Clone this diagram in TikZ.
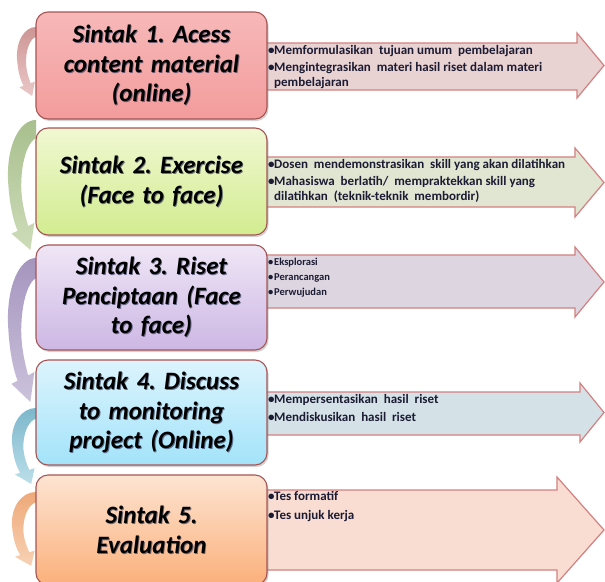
\documentclass[tikz,border=0pt]{standalone}
\usepackage{fontspec}
\setmainfont{Carlito}
\usetikzlibrary{shadows}
\frenchspacing

% colours of the five steps
\definecolor{edge}{HTML}{A65555}
\definecolor{arrowedge}{HTML}{D58080}
\definecolor{txt}{HTML}{1B1B33}
\definecolor{glow}{HTML}{1C2448}
\definecolor{arrA}{HTML}{E9D2D2}
\definecolor{arrB}{HTML}{E1E6D3}
\definecolor{arrC}{HTML}{DDD5E0}
\definecolor{arrD}{HTML}{D4E2E8}
\definecolor{arrE}{HTML}{F9DDD2}
\definecolor{curlAt}{HTML}{C98A8A}\definecolor{curlAb}{HTML}{E9C2C2}
\definecolor{curlBt}{HTML}{9FB982}\definecolor{curlBb}{HTML}{C9D9B2}
\definecolor{curlCt}{HTML}{9C8AB8}\definecolor{curlCb}{HTML}{C6BCD8}
\definecolor{curlDt}{HTML}{6FB0C6}\definecolor{curlDb}{HTML}{B5DCE8}
\definecolor{curlEt}{HTML}{EDA06A}\definecolor{curlEb}{HTML}{F7CDAE}
\definecolor{boxAt}{HTML}{F7B8B8}\definecolor{boxAb}{HTML}{F39C9C}
\definecolor{boxBt}{HTML}{F0F8D2}\definecolor{boxBb}{HTML}{D3EC90}
\definecolor{boxCt}{HTML}{EFE6F6}\definecolor{boxCb}{HTML}{CDB7E4}
\definecolor{boxDt}{HTML}{DCF4FD}\definecolor{boxDb}{HTML}{A3E3FA}
\definecolor{boxEt}{HTML}{FDE4D2}\definecolor{boxEb}{HTML}{FBB07A}

\tikzset{
  stepbox/.style={rounded corners=12pt, draw=edge, line width=1.1pt,
    minimum width=231pt,
    drop shadow={shadow xshift=1.5pt, shadow yshift=-2pt, opacity=0.35}},
  title/.style={text width=225pt, align=center, inner sep=0pt,
    font=\fontsize{25}{29.5}\selectfont\bfseries\itshape},
  titleglow/.style={title, text=glow, opacity=0.6},
  bigarrow/.style={draw=arrowedge, line width=1.2pt, line join=miter},
  item/.style={anchor=base west, inner sep=0pt, text=txt,
    font=\fontsize{13}{15}\selectfont\bfseries},
  smallitem/.style={item, font=\fontsize{10.5}{12}\selectfont\bfseries},
  curl/.style={draw=none, fill opacity=0.9}
}
\newcommand\bul{\makebox[6pt][l]{•}}
\newcommand\ind{\hspace*{6pt}}

% curved arrow on the left side of a step: #1 top y, #2 x-scale, #3 y-scale, #4 top colour, #5 bottom colour
\newcommand\curlarrow[5]{%
  \begin{scope}[shift={(36,#1)}, xscale=#2, yscale=#3]
    \shade[curl, top color=#4, bottom color=#5]
      (0,0) .. controls (-15,0) and (-26,20) .. (-25,45)
      .. controls (-24,65) and (-20,78) .. (-16.4,85.2)
      -- (-21.9,87.4) -- (-5,100) -- (-1.5,79.2) -- (-7,81.5)
      .. controls (-11,70) and (-14,58) .. (-13,45)
      .. controls (-12,28) and (-6,16) .. (0,14) -- cycle;
  \end{scope}}

% block arrow behind a step: #1 body top, #2 body bottom, #3 head x, #4 head top, #5 head bottom, #6 fill
\newcommand\blockarrow[6]{%
  \filldraw[bigarrow, fill=#6]
    (250,#1) -- (#3,#1) -- (#3,#4) -- (604,{(#4+#5)/2}) -- (#3,#5) -- (#3,#2) -- (250,#2) -- cycle;}

% step title with its dark glow: #1 box name, #2 text
\newcommand\steptitle[2]{%
  \node[titleglow] (#1glow) at ([shift={(0.9,0.9)}]#1.center) {#2};
  \node[title] (#1title) at (#1.center) {#2};}

\begin{document}
\begin{tikzpicture}[x=1pt, y=-1pt]
  \useasboundingbox[fill=white] (0,0) rectangle (605,581);

  % block arrows carrying the activities
  \blockarrow{43}{90}{577}{33}{98}{arrA}
  \blockarrow{157}{207}{575}{148}{217}{arrB}
  \blockarrow{255}{308}{575}{247}{317}{arrC}
  \blockarrow{392}{435}{580}{383}{442}{arrD}
  \blockarrow{490}{570}{557}{477}{583}{arrE}

  % curved arrows linking the steps
  \curlarrow{27}{0.76}{0.69}{curlAt}{curlAb}
  \curlarrow{120}{1.12}{1.30}{curlBt}{curlBb}
  \curlarrow{258}{1.12}{1.44}{curlCt}{curlCb}
  \curlarrow{408}{0.96}{0.76}{curlDt}{curlDb}
  \curlarrow{492}{0.96}{0.74}{curlEt}{curlEb}

  % the five steps
  \node[stepbox, minimum height=107pt, top color=boxAt, bottom color=boxAb] (s1) at (151.5,65.5) {};
  \node[stepbox, minimum height=107pt, top color=boxBt, bottom color=boxBb] (s2) at (151.5,181.5) {};
  \node[stepbox, minimum height=105pt, top color=boxCt, bottom color=boxCb] (s3) at (151.5,297.5) {};
  \node[stepbox, minimum height=105pt, top color=boxDt, bottom color=boxDb] (s4) at (151.5,412.5) {};
  \node[stepbox, minimum height=110pt, top color=boxEt, bottom color=boxEb] (s5) at (151.5,530) {};

  \steptitle{s1}{Sintak 1. Acess\\ content material\\ (online)}
  \steptitle{s2}{Sintak 2. Exercise\\ (Face to face)}
  \steptitle{s3}{Sintak 3. Riset\\ Penciptaan (Face\\ to face)}
  \steptitle{s4}{Sintak 4. Discuss\\ to monitoring\\ project (Online)}
  \steptitle{s5}{Sintak 5.\\ Evaluation}

  % activities of each step
  \node[item] (a1) at (268,54) {\bul Memformulasikan\ \ tujuan\ umum\ \ pembelajaran};
  \node[item] (a2) at (268,71) {\bul Mengintegrasikan\ \ materi hasil\ riset dalam\ materi};
  \node[item] (a3) at (268,86) {\ind pembelajaran};

  \node[item] (b1) at (268,168) {\bul Dosen\ \ mendemonstrasikan\ \ skill yang\ akan\ dilatihkan};
  \node[item] (b2) at (268,185) {\bul Mahasiswa\ \ berlatih/\ \ mempraktekkan skill yang};
  \node[item] (b3) at (268,200) {\ind dilatihkan\ \ (teknik-teknik\ \ membordir)};

  \node[smallitem] (c1) at (268,265) {\bul Eksplorasi};
  \node[smallitem] (c2) at (268,280) {\bul Perancangan};
  \node[smallitem] (c3) at (268,295) {\bul Perwujudan};

  \node[item] (d1) at (268,403) {\bul Mempersentasikan\ \ hasil\ \ riset};
  \node[item] (d2) at (268,421) {\bul Mendiskusikan\ \ hasil\ \ riset};

  \node[item] (e1) at (268,500) {\bul Tes\ formatif};
  \node[item] (e2) at (268,519) {\bul Tes\ unjuk\ kerja};
\end{tikzpicture}
\end{document}
